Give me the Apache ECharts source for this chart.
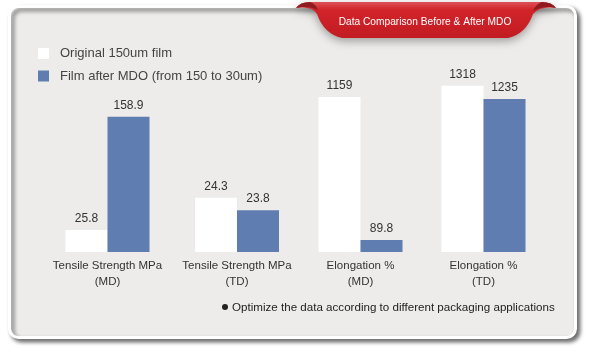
<!DOCTYPE html>
<html>
<head>
<meta charset="utf-8">
<script src="https://cdn.jsdelivr.net/npm/echarts@6/dist/echarts.min.js"></script>
<style>
  html, body { margin: 0; padding: 0; background: #ffffff; }
  #chart { width: 590px; height: 356px; }
</style>
</head>
<body>
<div id="chart"></div>
<script>
// ---- Data ----
const categories = [
  'Tensile Strength MPa\n(MD)',
  'Tensile Strength MPa\n(TD)',
  'Elongation %\n(MD)',
  'Elongation %\n(TD)'
];
const seriesNames = ['Original 150um film', 'Film after MDO (from 150 to 30um)'];
const originalValues = [25.8, 24.3, 1159, 1318];
const mdoValues = [158.9, 23.8, 89.8, 1235];
const titleText = 'Data Comparison Before & After MDO';
const noteText = 'Optimize the data according to different packaging applications';

// ---- Layout / scales (each category drawn on its own value scale) ----
const groupCenters = [107.5, 237, 360.5, 483.5];
const axisRanges = [
  { min: 0, max: 225.5 },
  { min: 22.1, max: 29.9 },
  { min: 0, max: 1435.7 },
  { min: 280.2, max: 1478.4 }
];
const colors = ['#ffffff', '#5f7db0'];
const gridW = 120;

// ribbon shapes
echarts.graphic.registerShape('ribbonBody', echarts.graphic.extendPath(
  'M296,8 Q300,2 310,2 L542,2 Q552,2 556,8 Q540,6 533,14 Q526,34 508,38 L342,38 Q324,34 317,14 Q312,6 296,8 Z', {}));
echarts.graphic.registerShape('ribbonCurlL', echarts.graphic.extendPath(
  'M296,8 Q300,2 310,2 Q316,4 318,10 Q308,5 296,8 Z', {}));
echarts.graphic.registerShape('ribbonCurlR', echarts.graphic.extendPath(
  'M556,8 Q552,2 542,2 Q536,4 533,11 Q544,5 556,8 Z', {}));

const grids = [], xAxes = [], yAxes = [], series = [];
categories.forEach((cat, i) => {
  grids.push({ left: groupCenters[i] - gridW / 2, width: gridW, top: 60, bottom: 104, containLabel: false });
  xAxes.push({
    type: 'category', gridIndex: i, data: [cat],
    axisLine: { show: false }, axisTick: { show: false },
    axisLabel: { color: '#333', fontSize: 11.5, lineHeight: 16, margin: 6, fontFamily: 'Liberation Sans, Arial, sans-serif' }
  });
  yAxes.push({
    type: 'value', gridIndex: i, show: false,
    min: axisRanges[i].min, max: axisRanges[i].max, startValue: axisRanges[i].min,
    splitLine: { show: false }
  });
  [originalValues, mdoValues].forEach((vals, s) => {
    series.push({
      type: 'bar', name: seriesNames[s], xAxisIndex: i, yAxisIndex: i,
      data: [vals[i]], barWidth: 42, barGap: '0%', clip: true,
      itemStyle: { color: colors[s] },
      label: {
        show: true, position: 'top', distance: 5, color: '#333', fontSize: 12,
        fontFamily: 'Liberation Sans, Arial, sans-serif',
        formatter: p => String(p.value)
      }
    });
  });
});

const chart = echarts.init(document.getElementById('chart'), null, { renderer: 'canvas' });
chart.setOption({
  backgroundColor: '#ffffff',
  animation: false,
  grid: grids,
  xAxis: xAxes,
  yAxis: yAxes,
  series: series,
  legend: {
    orient: 'vertical', left: 33, top: 42,
    data: seriesNames,
    icon: 'path://M0,0L10,0L10,10L0,10Z',
    itemWidth: 23, itemHeight: 11, itemGap: 9.5,
    textStyle: { color: '#444', fontSize: 13, fontFamily: 'Liberation Sans, Arial, sans-serif' },
    selectedMode: false
  },
  graphic: [
    {
      type: 'rect', z: -10, silent: true,
      shape: { x: 9.5, y: 6.5, width: 566, height: 331, r: 9 },
      style: {
        fill: '#edecea', stroke: '#ffffff', lineWidth: 3,
        shadowColor: 'rgba(0,0,0,0.55)', shadowBlur: 4, shadowOffsetX: 3, shadowOffsetY: 3
      }
    },
    {
      type: 'ribbonBody', z: 20, silent: true,
      shape: {},
      style: {
        fill: new echarts.graphic.LinearGradient(0, 0, 0, 1, [
          { offset: 0, color: '#dc5257' },
          { offset: 0.22, color: '#d2232a' },
          { offset: 1, color: '#c11c22' }
        ]),
        shadowColor: 'rgba(0,0,0,0.35)', shadowBlur: 10, shadowOffsetY: 3
      }
    },
    {
      type: 'ribbonCurlL', z: 21, silent: true, shape: {},
      style: { fill: '#8f1a1f' }
    },
    {
      type: 'ribbonCurlR', z: 21, silent: true, shape: {},
      style: { fill: '#8f1a1f' }
    },
    {
      type: 'text', z: 22, silent: true,
      style: {
        x: 425, y: 22, text: titleText, fill: '#ffffff', fontSize: 10.2,
        fontFamily: 'Liberation Sans, Arial, sans-serif',
        textAlign: 'center', textVerticalAlign: 'middle'
      }
    },
    {
      type: 'circle', z: 22, silent: true,
      shape: { cx: 225, cy: 307, r: 3 },
      style: { fill: '#222' }
    },
    {
      type: 'text', z: 22, silent: true,
      style: {
        x: 232, y: 307.5, text: noteText, fill: '#222', fontSize: 11.6,
        fontFamily: 'Liberation Sans, Arial, sans-serif',
        textAlign: 'left', textVerticalAlign: 'middle'
      }
    }
  ]
});
</script>
</body>
</html>
